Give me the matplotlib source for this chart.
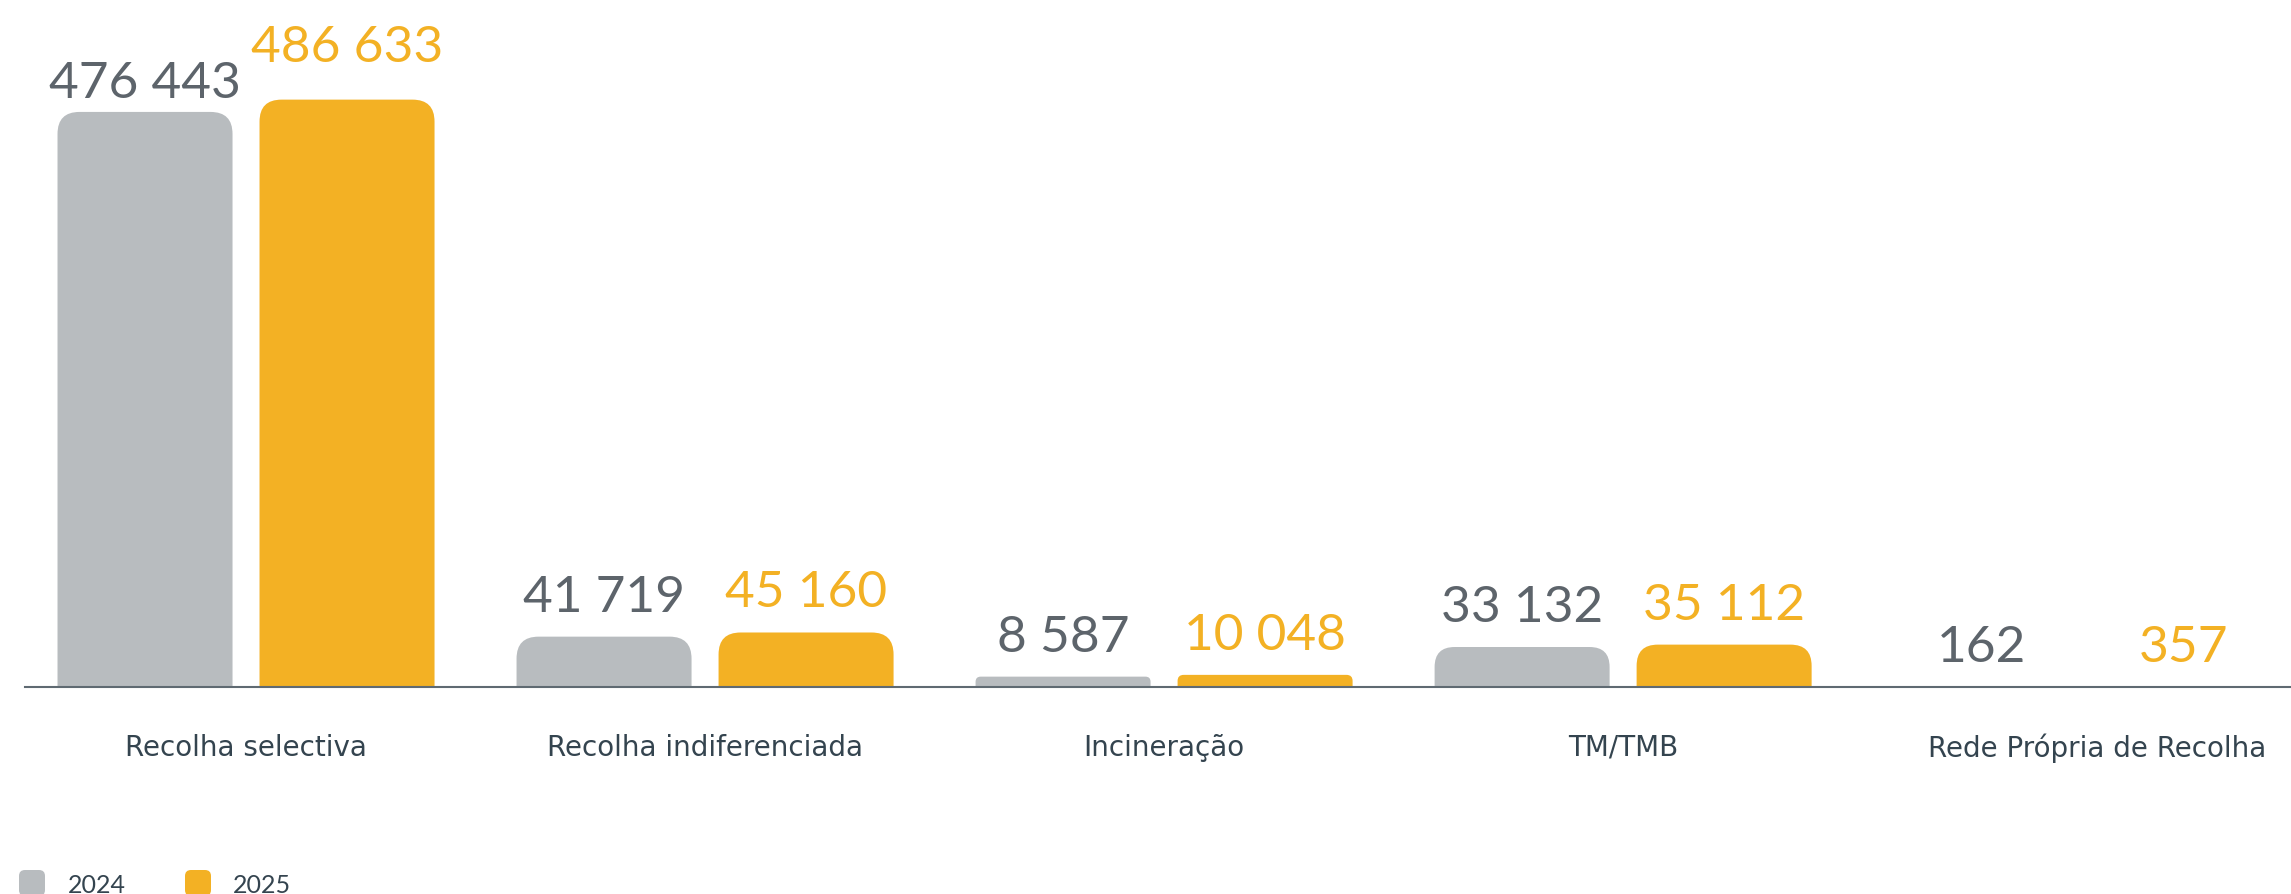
import matplotlib
matplotlib.use("Agg")
import matplotlib.pyplot as plt
from matplotlib.patches import FancyBboxPatch
from matplotlib.transforms import IdentityTransform, ScaledTranslation
import numpy as np

# ---- data ----
categories = ["Recolha selectiva", "Recolha indiferenciada", "Incineração", "TM/TMB", "Rede Própria de Recolha"]
values_2024 = [476443, 41719, 8587, 33132, 162]
values_2025 = [486633, 45160, 10048, 35112, 357]
series_labels = ["2024", "2025"]

# ---- style ----
GRAY = "#b8bcbf"
ORANGE = "#f3b124"
GRAY_TXT = "#5d646b"
DARK_TXT = "#34444f"
AXIS_C = "#5f6a72"
FONT = ["Lato", "DejaVu Sans"]
CAT_FONT = ["DejaVu Sans"]

W, H, DPI = 2291, 895, 100
fig = plt.figure(figsize=(W / DPI, H / DPI), dpi=DPI)
fig.patch.set_facecolor("white")
ax_l, ax_b = 25 / W, 207 / H
ax = fig.add_axes([ax_l, ax_b, 1 - ax_l, 1 - ax_b])

ax.set_xlim(-0.4815, 4.455)
ax.set_ylim(0, 570000)

x = np.arange(len(categories))
bw = 175 / 459
off = (13.5 + 87.5) / 459

bars_a = ax.bar(x - off, values_2024, width=bw, color=GRAY)
bars_b = ax.bar(x + off, values_2025, width=bw, color=ORANGE)

fig.canvas.draw()
# pixels per data unit
p0 = ax.transData.transform((0, 0))
p1 = ax.transData.transform((1, 1))
px_x = p1[0] - p0[0]
px_y = p1[1] - p0[1]
aspect = px_x / px_y

for cont, col in ((bars_a, GRAY), (bars_b, ORANGE)):
    for rect in cont.patches:
        bx, bwid, bh = rect.get_x(), rect.get_width(), rect.get_height()
        rect.set_visible(False)
        h_px = bh * px_y
        r_px = min(22.0, h_px * 0.5)
        if r_px < 0.3:
            r_px = 0.3
        r = r_px / px_x
        ext = r * aspect
        fb = FancyBboxPatch((bx, -ext), bwid, bh + ext,
                            boxstyle=f"round,pad=0,rounding_size={r}",
                            mutation_aspect=aspect, facecolor=col,
                            edgecolor="none", clip_on=True, zorder=2)
        ax.add_patch(fb)

def fmt(v):
    return f"{v:,}".replace(",", " ")

offs_a = [15, 26, 26, 26, 26]
offs_b = [39, 26, 26, 26, 26]
for i in range(len(categories)):
    ax.annotate(fmt(values_2024[i]), (x[i] - off, values_2024[i]),
                xytext=(0, offs_a[i]), textcoords="offset pixels",
                ha="center", va="baseline", fontsize=37, color=GRAY_TXT,
                family=FONT, annotation_clip=False)
    ax.annotate(fmt(values_2025[i]), (x[i] + off, values_2025[i]),
                xytext=(0, offs_b[i]), textcoords="offset pixels",
                ha="center", va="baseline", fontsize=37, color=ORANGE,
                family=FONT, annotation_clip=False)

ax.set_xticks(x)
ax.set_xticklabels(categories, fontsize=20, color=DARK_TXT, family=CAT_FONT)
ax.tick_params(axis="x", length=0, pad=33)
# last label sits slightly right of its group centre in the reference
last = ax.get_xticklabels()[-1]
last.set_transform(last.get_transform() + ScaledTranslation(0.15, 0, fig.dpi_scale_trans))
ax.set_yticks([])
for s in ("top", "right", "left"):
    ax.spines[s].set_visible(False)
ax.spines["bottom"].set_color(AXIS_C)
ax.spines["bottom"].set_linewidth(1.5)
ax.spines["bottom"].set_zorder(3)
ax.patch.set_alpha(0)

# ---- legend (pixel coords from bottom-left) ----
ident = IdentityTransform()
for (sx, tx, col, lab) in ((19, 68, GRAY, series_labels[0]), (185, 233, ORANGE, series_labels[1])):
    fig.patches.append(FancyBboxPatch((sx, -2), 26, 26,
                                      boxstyle="round,pad=0,rounding_size=6",
                                      facecolor=col, edgecolor="none",
                                      transform=ident, figure=fig))
    fig.text(tx, 2, lab, transform=ident, fontsize=18, color=DARK_TXT,
             family=FONT, va="baseline", ha="left")

fig.savefig("out.png", dpi=DPI)
